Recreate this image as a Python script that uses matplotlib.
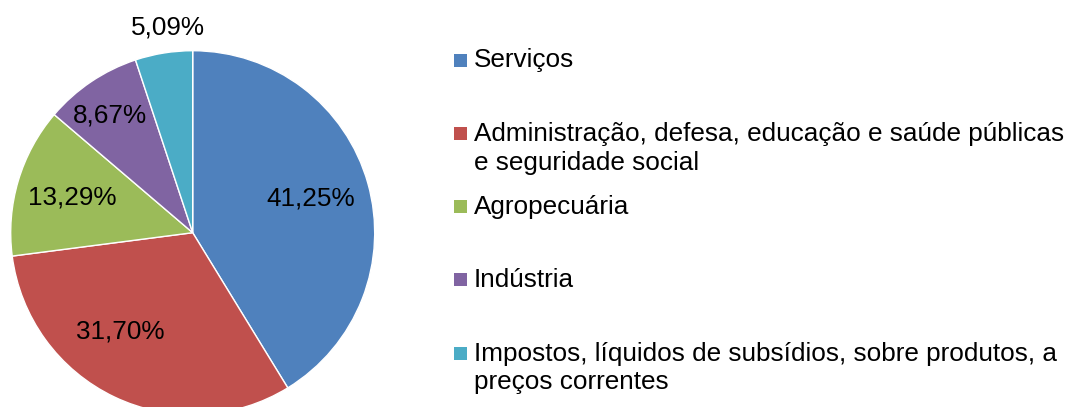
import numpy as np
import matplotlib.pyplot as plt
from matplotlib.patches import Rectangle

plt.rcParams['font.family'] = ['Liberation Sans', 'DejaVu Sans']

categories = ['Serviços',
              'Administração, defesa, educação e saúde públicas\ne seguridade social',
              'Agropecuária',
              'Indústria',
              'Impostos, líquidos de subsídios, sobre produtos, a\npreços correntes']
shares = [41.25, 31.70, 13.29, 8.67, 5.09]
colors = ['#4F81BD', '#C0504D', '#9BBB59', '#8064A2', '#4BACC6']

# label placement (radius fraction, angle tweak in degrees) - mimics excel best fit
lab_r = [0.675, 0.674, 0.69, 0.79, 1.135]
lab_dang = [0.3, -10.7, 0.5, 1.4, -2.3]

W, H = 1077, 407
fig = plt.figure(figsize=(W / 100, H / 100), dpi=100)
ax = fig.add_axes([0, 0, 1, 1])

cx, cy, R = 192.7, H - 232.7, 182
wedges, _ = ax.pie(shares, colors=colors, startangle=90, counterclock=False,
                   center=(cx, cy), radius=R, frame=True,
                   wedgeprops=dict(edgecolor='white', linewidth=1))
ax.set_xlim(0, W)
ax.set_ylim(0, H)
ax.axis('off')

fs = 18.8
for w, v, r, da in zip(wedges, shares, lab_r, lab_dang):
    ang = np.deg2rad((w.theta1 + w.theta2) / 2 + da)
    ax.text(cx + r * R * np.cos(ang), cy + r * R * np.sin(ang),
            f'{v:.2f}%'.replace('.', ','), ha='center', va='center', fontsize=fs)

# legend drawn by hand, excel spaces entries evenly
y0, step = 60, 73.25
for i, (lab, c) in enumerate(zip(categories, colors)):
    ym = H - (y0 + i * step)
    ax.add_patch(Rectangle((453.5, ym - 6.5), 13, 13, facecolor=c, edgecolor='none'))
    lines = lab.split('\n')
    for j, ln in enumerate(lines):
        ax.text(474, ym - 7.5 - j * 29, ln, ha='left', va='baseline', fontsize=fs)

fig.savefig('out.png', dpi=100)
